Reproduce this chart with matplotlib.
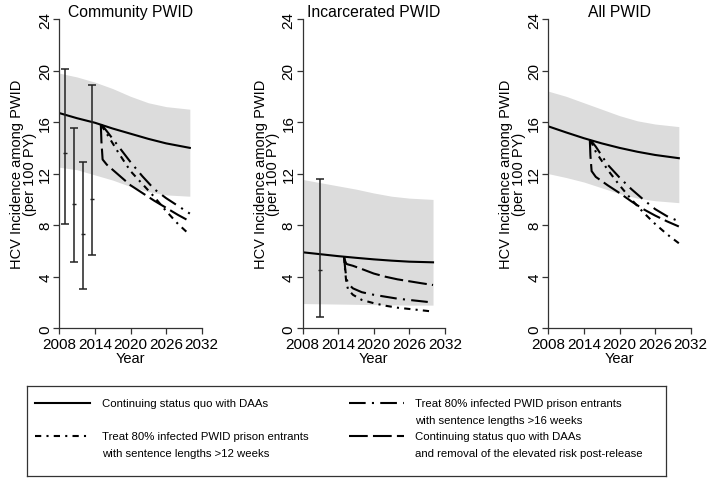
import matplotlib
matplotlib.use("Agg")
import matplotlib.pyplot as plt

plt.rcParams['font.family'] = ['Liberation Sans', 'DejaVu Sans']

# data

band_years = [2008, 2011, 2014, 2017, 2020, 2023, 2026, 2030]
int_years = [2015, 2015.3, 2016, 2018, 2020, 2022, 2024, 2026, 2028, 2030]
drop_years = [2015, 2015.1, 2015.3, 2016, 2018, 2020, 2022, 2024, 2026, 2028, 2030]
inc_years = [2015, 2015.2, 2015.4, 2015.7, 2016.5, 2018, 2020, 2022, 2024, 2026, 2028, 2030]

# Community PWID
com_upper = [19.8, 19.5, 19.1, 18.6, 18.0, 17.5, 17.2, 17.0]
com_lower = [12.5, 12.3, 11.9, 11.5, 11.0, 10.6, 10.35, 10.25]
com_quo = [16.7, 16.3, 15.95, 15.5, 15.1, 14.7, 14.35, 14.0]
com_16wk = [15.8, 15.7, 15.3, 14.1, 12.9, 11.8, 10.8, 10.1, 9.5, 8.9]
com_12wk = [15.8, 15.6, 15.1, 13.6, 12.2, 11.2, 10.2, 9.1, 8.1, 7.25]
com_removal = [15.8, 14.5, 13.1, 12.7, 11.9, 11.1, 10.5, 9.9, 9.35, 8.8, 8.3]
com_obs_x = [2009, 2010.4, 2012, 2013.5]
com_obs = [13.6, 9.64, 7.34, 10.03]
com_obs_lo = [8.09, 5.12, 3.05, 5.71]
com_obs_hi = [20.1, 15.54, 12.9, 18.9]

# Incarcerated PWID
inc_upper = [11.55, 11.3, 11.05, 10.8, 10.5, 10.25, 10.1, 10.0]
inc_lower = [1.92, 1.9, 1.88, 1.86, 1.84, 1.82, 1.8, 1.8]
inc_quo = [5.9, 5.75, 5.6, 5.47, 5.35, 5.25, 5.17, 5.12]
inc_16wk = [5.55, 4.6, 3.9, 3.45, 3.1, 2.8, 2.6, 2.45, 2.3, 2.2, 2.1, 2.0]
inc_12wk = [5.55, 4.4, 3.5, 3.0, 2.6, 2.2, 1.95, 1.75, 1.6, 1.5, 1.4, 1.3]
inc_removal = [5.55, 5.2, 5.0, 4.95, 4.85, 4.6, 4.25, 4.0, 3.8, 3.65, 3.5, 3.36]
inc_obs_x = [2011]
inc_obs = [4.5]
inc_obs_lo = [0.9]
inc_obs_hi = [11.6]

# All PWID
all_upper = [18.4, 18.0, 17.5, 17.0, 16.5, 16.1, 15.85, 15.65]
all_lower = [12.0, 11.7, 11.35, 10.9, 10.45, 10.1, 9.9, 9.75]
all_quo = [15.67, 15.2, 14.75, 14.35, 14.0, 13.7, 13.45, 13.2]
all_16wk = [14.6, 14.5, 14.1, 12.7, 11.7, 10.8, 10.0, 9.25, 8.7, 8.3]
all_12wk = [14.6, 14.4, 13.7, 12.3, 11.1, 10.0, 9.0, 8.1, 7.3, 6.6]
all_removal = [14.6, 13.4, 12.2, 11.75, 11.1, 10.5, 9.85, 9.25, 8.75, 8.3, 7.9]

ls_16wk = (0, (8, 3, 1, 3))
ls_12wk = (0, (3, 2.5, 1, 2.5))
ls_removal = (0, (9, 2.5))
lw = 1.5

fig = plt.figure(figsize=(7.09, 4.89), dpi=100)

W, H = 709, 489
lefts = [59.3, 302.5, 548.3]
ax_w = 142.4
ax_top, ax_bot = 20, 329.3

panels = [
    ("Community PWID", com_upper, com_lower, com_quo, com_16wk, com_12wk, com_removal,
     int_years, int_years, drop_years, com_obs_x, com_obs, com_obs_lo, com_obs_hi),
    ("Incarcerated PWID", inc_upper, inc_lower, inc_quo, inc_16wk, inc_12wk, inc_removal,
     inc_years, inc_years, inc_years, inc_obs_x, inc_obs, inc_obs_lo, inc_obs_hi),
    ("All PWID", all_upper, all_lower, all_quo, all_16wk, all_12wk, all_removal,
     int_years, int_years, drop_years, None, None, None, None),
]

for left, p in zip(lefts, panels):
    (title, upper, lower, quo, wk16, wk12, removal,
     x16, x12, xrem, ox, oy, olo, ohi) = p
    ax = fig.add_axes([left / W, (H - ax_bot) / H, ax_w / W, (ax_bot - ax_top) / H])
    ax.fill_between(band_years, lower, upper, color='#dcdcdc', linewidth=0)
    ax.plot(band_years, quo, color='black', linewidth=lw)
    ax.plot(x16, wk16, color='black', linewidth=lw, linestyle=ls_16wk)
    ax.plot(x12, wk12, color='black', linewidth=lw, linestyle=ls_12wk)
    ax.plot(xrem, removal, color='black', linewidth=lw, linestyle=ls_removal)
    if ox is not None:
        yerr = [[c - l for c, l in zip(oy, olo)], [h - c for c, h in zip(oy, ohi)]]
        ax.errorbar(ox, oy, yerr=yerr, fmt='none', ecolor='#222222',
                    elinewidth=1.1, capsize=3, capthick=1.1)
        ax.plot(ox, oy, linestyle='none', marker='_', markersize=2.5, color='#222222')

    ax.set_xlim(2008, 2032)
    ax.set_ylim(0, 24)
    ax.set_xticks(range(2008, 2033, 6))
    ax.set_yticks(range(0, 25, 4))
    for s in ['top', 'right']:
        ax.spines[s].set_visible(False)
    for s in ['left', 'bottom']:
        ax.spines[s].set_color('#333333')
        ax.spines[s].set_linewidth(0.9)
    ax.tick_params(direction='out', length=4, width=0.9, color='#333333',
                   labelsize=11, pad=2)
    ax.tick_params(axis='y', pad=1)
    for t in ax.get_yticklabels():
        t.set_rotation(90)
        t.set_va('center')
    ax.set_xlabel("Year", fontsize=10.5, labelpad=0)
    ax.set_ylabel("HCV Incidence among PWID\n(per 100 PY)", fontsize=10.5,
                  linespacing=0.9)
    ax.yaxis.set_label_coords(-0.155, 0.5)
    ax.set_title(title, fontsize=11.3, pad=2.5)

# legend box
lax = fig.add_axes([27 / W, (H - 477) / H, (666 - 27) / W, (477 - 387) / H])
lax.set_xlim(27, 666)
lax.set_ylim(477, 387)
lax.set_xticks([])
lax.set_yticks([])
for s in lax.spines.values():
    s.set_linewidth(0.9)
    s.set_color('#333333')

leg_font = dict(fontsize=8.2, va='center', ha='left')
lax.plot([35, 90], [404, 404], color='black', linewidth=lw)
lax.text(102, 404, "Continuing status quo with DAAs", **leg_font)
lax.plot([35, 90], [437, 437], color='black', linewidth=lw, linestyle=ls_12wk)
lax.text(102, 437, "Treat 80% infected PWID prison entrants", **leg_font)
lax.text(102, 454, "with sentence lengths >12 weeks", **leg_font)
lax.plot([349, 404], [404, 404], color='black', linewidth=lw, linestyle=ls_16wk)
lax.text(415, 404, "Treat 80% infected PWID prison entrants", **leg_font)
lax.text(415, 421, "with sentence lengths >16 weeks", **leg_font)
lax.plot([349, 404], [437, 437], color='black', linewidth=lw, linestyle=ls_removal)
lax.text(415, 437, "Continuing status quo with DAAs", **leg_font)
lax.text(415, 454, "and removal of the elevated risk post-release", **leg_font)

fig.savefig("out.png", dpi=100)
